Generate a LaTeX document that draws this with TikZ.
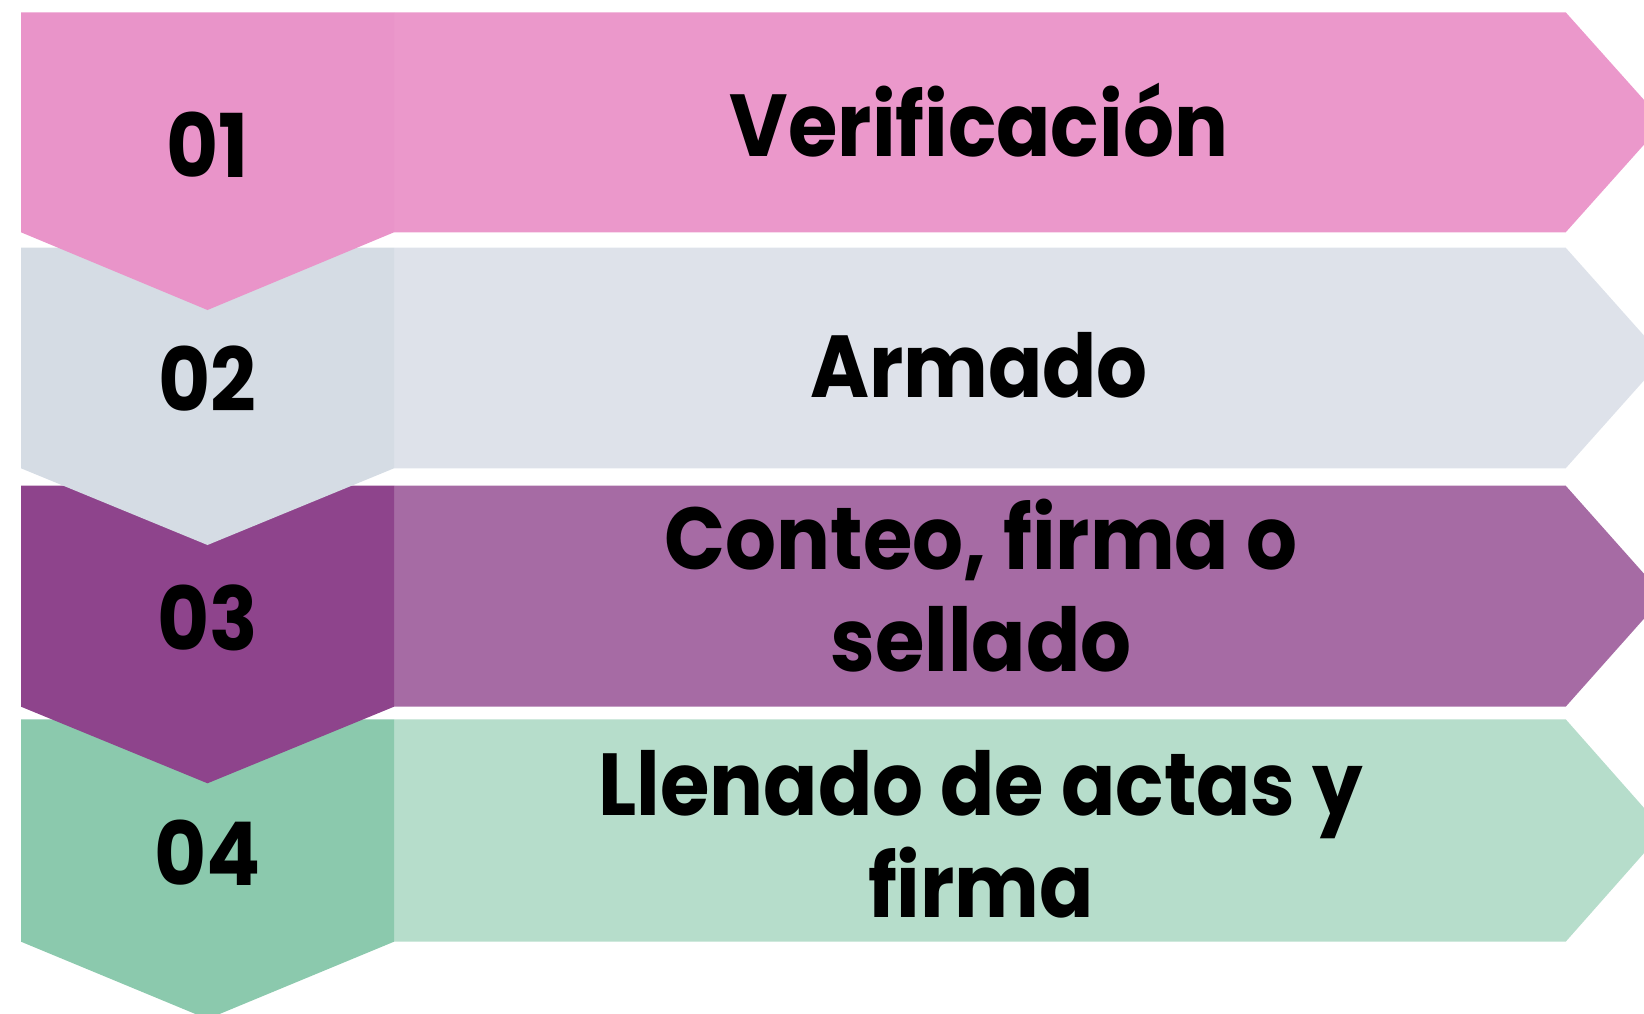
\documentclass[tikz,border=0pt]{standalone}
\usepackage{fontspec}
\setmainfont{Poppins}[FakeStretch=0.91]
\definecolor{pinkA}{HTML}{E994C9}
\definecolor{pinkB}{HTML}{EB98CB}
\definecolor{grayA}{HTML}{D5DCE4}
\definecolor{grayB}{HTML}{DEE2EA}
\definecolor{purpA}{HTML}{8E448C}
\definecolor{purpB}{HTML}{A66BA4}
\definecolor{greenA}{HTML}{8BC9AD}
\definecolor{greenB}{HTML}{B6DDCB}
\tikzset{
  lab/.style={text=black, inner sep=0pt, align=center, font=\bfseries\fontsize{88}{102}\selectfont},
  num/.style={text=black, inner sep=0pt, font=\bfseries\fontsize{88}{102}\selectfont}
}
\begin{document}
\begin{tikzpicture}[x=1pt,y=-1pt]
\useasboundingbox (0,0) rectangle (1644,1014);
\clip (0,0) rectangle (1644,1014);
% row 4
\fill[greenB] (394,719.3) -- (1565.7,719.3) -- (1664,830.5) -- (1565.7,941.7) -- (394,941.7) -- cycle;
\fill[greenA] (21,719.3) -- (394,719.3) -- (394,941.7) -- (207.5,1019) -- (21,941.7) -- cycle;
% row 3
\fill[purpB] (394,485.7) -- (1565.7,485.7) -- (1664,596.2) -- (1565.7,706.7) -- (394,706.7) -- cycle;
\fill[purpA] (21,485.7) -- (394,485.7) -- (394,706.7) -- (207.5,783.3) -- (21,706.7) -- cycle;
% row 2
\fill[grayB] (394,247.7) -- (1565.7,247.7) -- (1664,358) -- (1565.7,468.3) -- (394,468.3) -- cycle;
\fill[grayA] (21,247.7) -- (394,247.7) -- (394,468.3) -- (207.5,545) -- (21,468.3) -- cycle;
% row 1
\fill[pinkB] (394,12.3) -- (1565.7,12.3) -- (1664,122.3) -- (1565.7,232.3) -- (394,232.3) -- cycle;
\fill[pinkA] (21,12.3) -- (394,12.3) -- (394,232.3) -- (207.5,310) -- (21,232.3) -- cycle;
% numbers
\node[num, anchor=base] (n1) at (207.5,177) {01};
\node[num, anchor=base] (n2) at (207.5,411) {02};
\node[num, anchor=base] (n3) at (207.5,650) {03};
\node[num, anchor=base] (n4) at (207.5,885) {04};
% labels
\node[lab, anchor=base] (t1) at (979,157) {Verificación};
\node[lab, anchor=base] (t2) at (979,397) {Armado};
\node[lab, anchor=base] (t3) at (981,671) {Conteo, firma o\\sellado};
\node[lab, anchor=base] (t4) at (981,917.5) {Llenado de actas y\\firma};
\end{tikzpicture}
\end{document}
